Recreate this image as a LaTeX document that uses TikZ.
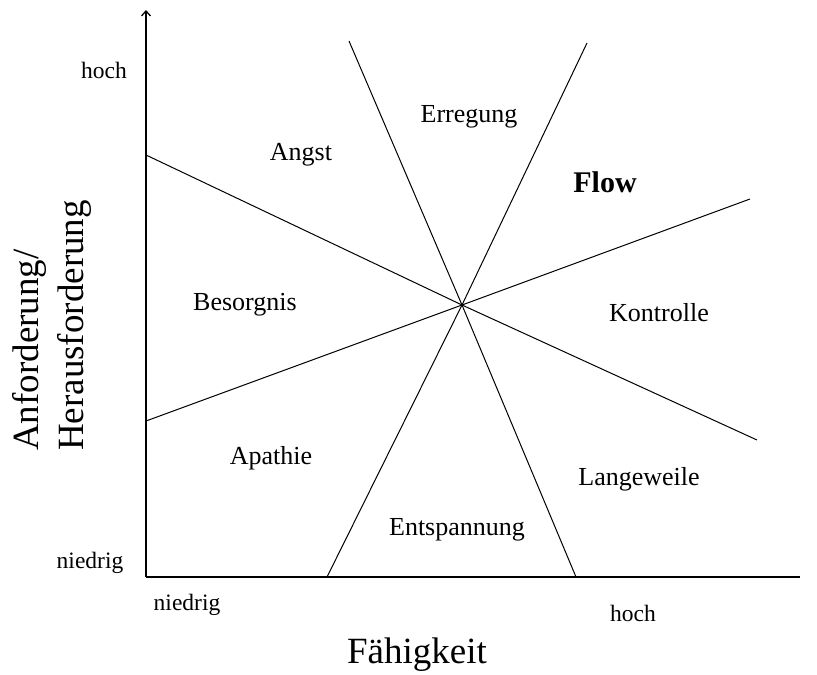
\documentclass[tikz,border=0pt]{standalone}
\usepackage{fontspec}
\setmainfont{Liberation Serif}
\usetikzlibrary{arrows.meta,positioning}

\begin{document}
\begin{tikzpicture}[
    x=1pt, y=-1pt,
    axis/.style={line width=1.3pt},
    zone/.style={line width=1pt},
    lbl/.style={font=\fontsize{26}{30}\selectfont, inner sep=0pt},
    tick/.style={font=\fontsize{23.5}{27}\selectfont, inner sep=0pt},
    ttl/.style={font=\fontsize{37}{45}\selectfont, inner sep=0pt},
  ]
    \useasboundingbox (0,0) rectangle (817,675);

    % Axes
    \coordinate (o) at (146,577);
    \coordinate (ytop) at (146,10);
    \coordinate (xend) at (800,577);
    \draw[axis, -{Straight Barb[length=5pt,width=9pt]}] (o) -- (ytop);
    \draw[axis] (o) -- (xend);

    % Zone borders through the centre
    \coordinate (c) at (462,305);
    \coordinate (a1) at (146,155);  \coordinate (a2) at (757,440);
    \coordinate (b1) at (146,421);  \coordinate (b2) at (750,199);
    \coordinate (d1) at (349,41);   \coordinate (d2) at (576,577);
    \coordinate (e1) at (587,43);   \coordinate (e2) at (327,577);
    \draw[zone] (a1) -- (c) -- (a2);
    \draw[zone] (b1) -- (c) -- (b2);
    \draw[zone] (d1) -- (c) -- (d2);
    \draw[zone] (e1) -- (c) -- (e2);

    % Zone labels
    \node[lbl] (erregung) at (469,117) {Erregung};
    \node[lbl] (angst) at (301,155) {Angst};
    \node[font=\fontsize{30}{34}\selectfont\bfseries, inner sep=0pt] (flow) at (605,182) {Flow};
    \node[lbl] (besorgnis) at (245,305) {Besorgnis};
    \node[lbl] (kontrolle) at (659,313) {Kontrolle};
    \node[lbl] (apathie) at (271,458) {Apathie};
    \node[lbl] (langeweile) at (639,479) {Langeweile};
    \node[lbl] (entspannung) at (457,530) {Entspannung};

    % Axis ticks
    \node[tick] (yhoch) at (104,70) {hoch};
    \node[tick] (yniedrig) at (90,563) {niedrig};
    \node[tick] (xniedrig) at (187,605) {niedrig};
    \node[tick] (xhoch) at (633,613) {hoch};

    % Axis titles
    \node[ttl] (xtitle) at (417,655) {Fähigkeit};
    \node[ttl, rotate=90, anchor=south west, align=left] (ytitle) at (92,451) {Anforderung/\\Herausforderung};

  \end{tikzpicture}
\end{document}
